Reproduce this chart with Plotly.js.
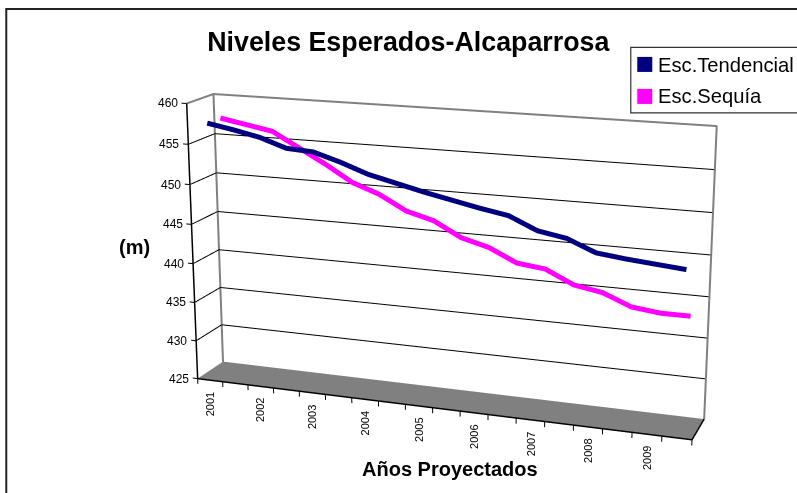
<!DOCTYPE html>
<html><head><meta charset="utf-8"><script src="https://cdn.plot.ly/plotly-3.0.0.min.js"></script>
<style>html,body{margin:0;padding:0;background:#fff;overflow:hidden}#wrap{position:absolute;left:0;top:0;width:797px;height:493px;overflow:hidden}#p{position:absolute}</style></head>
<body><div id="wrap"><div id="p"></div></div>
<script>
var tendencial=[457.4,456.8,456.1,455,454.8,453.8,452.6,451.8,451,450.3,449.6,449,447.5,446.9,445.5,445.1,444.8,444.5];
var sequia=[457.4,456.8,456.2,454.4,452.6,450.6,449.4,447.6,446.7,444.9,444,442.4,442,440.4,439.8,438.4,438,438];
var years=['2001','2002','2003','2004','2005','2006','2007','2008','2009'];
var zTicks=[425,430,435,440,445,450,455,460];
var cam={ex:1.883,ey:-5.3009,ez:1.5404,ax:1.7953,ay:0.202};
var H=1420.5666,W=Math.round(H*1.6),left=442.2204-W/2,top_=259.5231-H/2;
var el=document.getElementById('p');el.style.left=left+'px';el.style.top=top_+'px';
var xp=function(v){return (v-left)/W},yp=function(v){return 1-(v-top_)/H};
var pos=tendencial.map(function(_,i){return i+.5;});
function seg(list){var x=[],y=[],z=[];list.forEach(function(s){s.forEach(function(p){x.push(p[0]);y.push(p[1]);z.push(p[2])});x.push(null);y.push(null);z.push(null)});return {x:x,y:y,z:z}}
function line(d,c,w){return {type:'scatter3d',mode:'lines',x:d.x,y:d.y,z:d.z,line:{color:c,width:w},hoverinfo:'skip',connectgaps:false}}
var xmax=18,zlo=425,zhi=460;
var grid=zTicks.filter(function(v){return v>zlo&&v<zhi}).map(function(v){return [[0,0,v],[0,1,v],[xmax,1,v]]});
var wall=[[[0,0,zhi],[0,1,zhi],[xmax,1,zhi],[xmax,1,zlo]],[[0,1,zhi],[0,1,zlo]]];
var axes=[[[0,0,zhi],[0,0,zlo],[xmax,0,zlo],[xmax,1,zlo]]];
var tk=zTicks.map(function(v){return [[0,0,v],[-.2,0,v]]});
for(var i=0;i<=xmax;i++)tk.push([[i,0,zlo],[i,0,zlo-.7]]);
var traces=[
{type:'mesh3d',x:[0,xmax,xmax,0],y:[0,0,1,1],z:[zlo,zlo,zlo,zlo],i:[0,0],j:[1,2],k:[2,3],color:'#808080',flatshading:true,lighting:{ambient:1,diffuse:0,specular:0,fresnel:0},hoverinfo:'skip'},
line(seg(grid),'#000',2),line(seg(wall),'#808080',4),line(seg(axes),'#000',3),line(seg(tk),'#000',2),
{type:'scatter3d',mode:'lines',name:'Esc.Sequía',x:pos,y:pos.map(function(){return .75}),z:sequia,line:{color:'#ff00ff',width:10}},
{type:'scatter3d',mode:'lines',name:'Esc.Tendencial',x:pos,y:pos.map(function(){return .25}),z:tendencial,line:{color:'#000080',width:10}}
];
var F='"Liberation Sans",Arial,sans-serif';
var sa=zTicks.map(function(v){return {x:0,y:0,z:v,text:String(v),showarrow:false,xanchor:'right',xshift:-7,font:{family:F,size:12,color:'#000'}}});
years.forEach(function(y,i){sa.push({x:2*i+.5,y:0,z:zlo,text:y,showarrow:false,textangle:-90,yshift:-24,font:{family:F,size:11,color:'#000'}})});
function note(t,x,y,size,bold,anchor){return {xref:'paper',yref:'paper',x:xp(x),y:yp(y),text:bold?'<b>'+t+'</b>':t,showarrow:false,xanchor:anchor||'center',yanchor:'middle',font:{family:F,size:size,color:'#000'}}}
function rect(x0,y0,x1,y1,fill,lc,lw){return {type:'rect',xref:'paper',yref:'paper',x0:xp(x0),x1:xp(x1),y0:yp(y0),y1:yp(y1),fillcolor:fill,line:{color:lc,width:lw}}}
var xLo=.25,xHi=.2,yPad=.06,zLoPad=.8,zHiPad=.3;
var cw=[cam.ax*(xLo-xHi)/36,0,(zLoPad-zHiPad)/70];
var axisOff={showticklabels:false,showgrid:false,zeroline:false,showline:false,ticks:'',showbackground:false,showspikes:false,title:{text:''}};
function ax(r){return Object.assign({range:r},axisOff)}
var layout={width:W,height:H,margin:{l:0,r:0,t:0,b:0},showlegend:false,paper_bgcolor:'#fff',
scene:{domain:{x:[0,1],y:[0,1]},aspectmode:'manual',aspectratio:{x:cam.ax*(18+xLo+xHi)/18,y:cam.ay*(1+2*yPad),z:(35+zLoPad+zHiPad)/35},
camera:{eye:{x:cam.ex+cw[0],y:cam.ey,z:cam.ez+cw[2]},center:{x:cw[0],y:0,z:cw[2]},up:{x:0,y:0,z:1}},
xaxis:ax([-xLo,xmax+xHi]),yaxis:ax([-yPad,1+yPad]),zaxis:ax([zlo-zLoPad,zhi+zHiPad]),annotations:sa},
title:{text:'<b>Niveles Esperados-Alcaparrosa</b>',xref:'paper',yref:'paper',x:xp(408),y:yp(42),xanchor:'center',yanchor:'middle',font:{family:F,size:26.8,color:'#000'}},
shapes:[rect(6,9,830,530,'rgba(0,0,0,0)','#222',2),rect(630.5,47.5,830,113,'#fff','#333',1.2),rect(637,57,652,72,'#000080','#000080',0),rect(637,89,652,104,'#ff00ff','#ff00ff',0)],
annotations:[note('Esc.Tendencial',656,65,20.2,false,'left'),note('Esc.Sequía',656,96.5,20.2,false,'left'),note('(m)',134,247,20,true),note('Años Proyectados',450,469,20,true)]};
Plotly.newPlot('p',traces,layout,{displayModeBar:false});
</script></body></html>
